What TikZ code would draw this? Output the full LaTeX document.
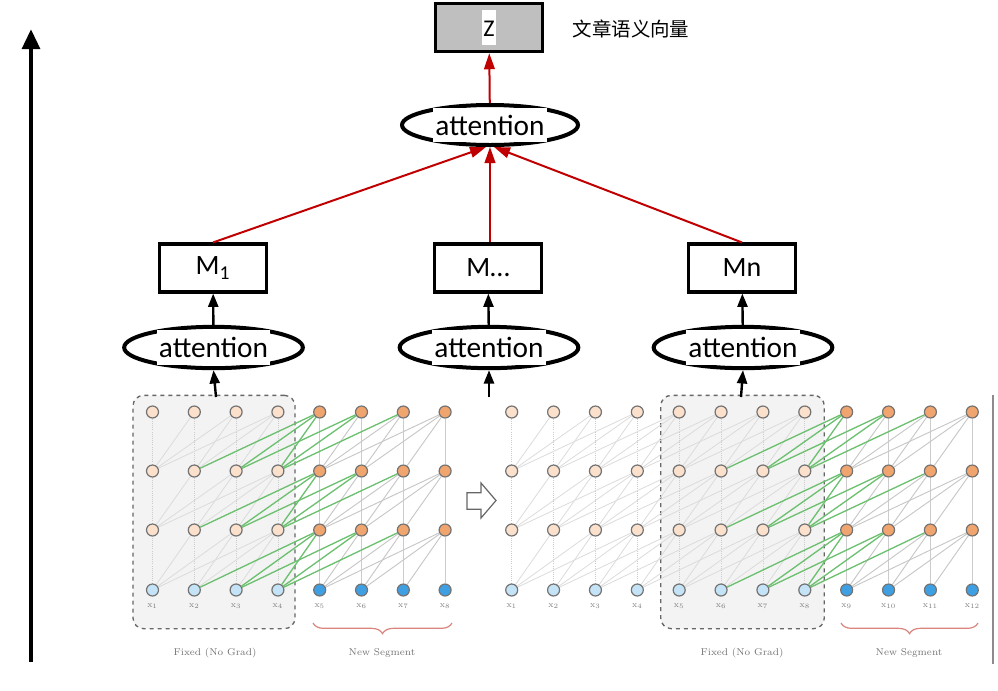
\documentclass[tikz,border=0pt]{standalone}
\usepackage{fontspec}
\newfontfamily\calibri{Carlito}
\newfontfamily\cjkfont{Noto Sans CJK SC}
\usetikzlibrary{positioning,arrows.meta,shapes.geometric,decorations.pathreplacing,backgrounds}
\definecolor{darkred}{HTML}{C00000}
\definecolor{paleorange}{HTML}{FBE0CC}
\definecolor{deeporange}{HTML}{F0A46E}
\definecolor{paleblue}{HTML}{C4E3F7}
\definecolor{deepblue}{HTML}{3F9FE3}
\definecolor{hotgreen}{HTML}{6CC070}
\definecolor{bracered}{HTML}{D9847C}
\definecolor{boxgray}{HTML}{F3F3F3}
\begin{document}
\begin{tikzpicture}[x=0.75pt,y=-0.75pt,>={Triangle[length=10pt,width=7.5pt]}]
	\useasboundingbox (0,0) rectangle (998,690);
	\def \zrow{27.5}
	\def \toprow{125}
	\def \mrow{268}
	\def \attrow{347.5}
	\def \rowzero{590}
	\def \rowone{530}
	\def \rowtwo{471}
	\def \rowthree{412}
	\tikzstyle{z-node}=[draw,fill=gray!50,line width=2.6pt,minimum width=80pt,minimum height=36pt,inner sep=0pt,font=\calibri\fontsize{18}{20}\selectfont]
	\tikzstyle{m-node}=[draw,line width=2.3pt,minimum width=80pt,minimum height=36pt,inner sep=0pt,font=\calibri\fontsize{21}{24}\selectfont]
	\tikzstyle{a-node}=[ellipse,draw,line width=3pt,minimum width=132pt,minimum height=30pt,inner sep=0pt]
	\tikzstyle{a-text}=[fill=white,inner sep=0pt,minimum width=85pt,minimum height=26pt,font=\calibri\fontsize{22}{26}\selectfont]
	\tikzstyle{n-node}=[circle,draw=black!55,line width=0.9pt,minimum size=9pt,inner sep=0pt]
	\tikzstyle{x-label}=[text=black!50,inner sep=0pt,label distance=5pt,font=\fontsize{6.5}{7}\selectfont]
	\tikzstyle{fix-box}=[draw=black!60,dashed,line width=1pt,fill=boxgray,rounded corners=8pt,minimum height=175pt]
	\tikzstyle{cap-text}=[text=black!55,font=\fontsize{7.4}{9}\selectfont]
	\tikzstyle{v-old}=[black!20,densely dotted,line width=0.6pt]
	\tikzstyle{v-new}=[black!20,line width=0.9pt]
	\tikzstyle{e-old}=[black!14,line width=0.6pt]
	\tikzstyle{e-new}=[black!22,line width=0.7pt]
	\tikzstyle{e-hot}=[hotgreen,line width=1pt]
	\tikzstyle{red-line}=[->,darkred,line width=1.5pt,>={Triangle[length=12pt,width=8pt]}]
	\tikzstyle{up-line}=[->,line width=1.8pt]

	% top of the model
	\node[z-node] (z) at (489,\zrow) {{\fboxsep=1pt\colorbox{white}{\rule[-5.5pt]{0pt}{24pt}Z}}};
	\node[font=\cjkfont\fontsize{14.6}{16}\selectfont] (zname) at (631,29) {文章语义向量};
	\node[a-node] (a0) at (490,\toprow) {};
	\node[a-text] (a0t) at (a0) {attention};

	% segment memories
	\node[m-node] (m1) at (213,\mrow) {M\textsubscript{1}};
	\node[m-node] (m2) at (488,\mrow) {M…};
	\node[m-node] (m3) at (742,\mrow) {Mn};

	% segment attention
	\node[a-node,minimum width=134pt,minimum height=31pt] (a1) at (213.5,\attrow) {};
	\node[a-text] (a1t) at (a1) {attention};
	\node[a-node,minimum width=134pt,minimum height=31pt] (a2) at (489,\attrow) {};
	\node[a-text] (a2t) at (a2) {attention};
	\node[a-node,minimum width=134pt,minimum height=31pt] (a3) at (743,\attrow) {};
	\node[a-text] (a3t) at (a3) {attention};

	\coordinate (s1) at (216,397);
	\coordinate (s2) at (489,397);
	\coordinate (s3) at (741,397);
	\coordinate (axisbot) at (31,662);
	\coordinate (axistop) at (31,29);

	% left network (x1..x8)
	\foreach \c in {1,...,8} {
		\ifnum\c<5\relax \def\hcol{paleorange}\def\icol{paleblue}\else \def\hcol{deeporange}\def\icol{deepblue}\fi
		\node[n-node,fill=\icol,label={[x-label]below:$\mathrm{x}_{\c}$}] (l-0-\c) at ({152.5+41.8*(\c-1)},\rowzero) {};
		\node[n-node,fill=\hcol] (l-1-\c) at ({152.5+41.8*(\c-1)},\rowone) {};
		\node[n-node,fill=\hcol] (l-2-\c) at ({152.5+41.8*(\c-1)},\rowtwo) {};
		\node[n-node,fill=\hcol] (l-3-\c) at ({152.5+41.8*(\c-1)},\rowthree) {};
	}
	% right network (x1..x12)
	\foreach \c in {1,...,12} {
		\ifnum\c<9\relax \def\hcol{paleorange}\def\icol{paleblue}\else \def\hcol{deeporange}\def\icol{deepblue}\fi
		\node[n-node,fill=\icol,label={[x-label]below:$\mathrm{x}_{\c}$}] (r-0-\c) at ({511.7+41.87*(\c-1)},\rowzero) {};
		\node[n-node,fill=\hcol] (r-1-\c) at ({511.7+41.87*(\c-1)},\rowone) {};
		\node[n-node,fill=\hcol] (r-2-\c) at ({511.7+41.87*(\c-1)},\rowtwo) {};
		\node[n-node,fill=\hcol] (r-3-\c) at ({511.7+41.87*(\c-1)},\rowthree) {};
	}

	\begin{pgfonlayer}{background}
		\node[fix-box,minimum width=121.5pt] (fix1) at (214,512) {};
		\node[fix-box,minimum width=122.7pt] (fix2) at (742.5,512) {};
		\foreach \r in {1,2,3} {
			\pgfmathtruncatemacro\q{\r-1}
			\foreach \c in {1,...,8} {
				\ifnum\c<5\relax \draw[v-old] (l-\q-\c) -- (l-\r-\c); \else \draw[v-new] (l-\q-\c) -- (l-\r-\c); \fi
				\foreach \d in {1,2,3} {
					\pgfmathtruncatemacro\b{\c-\d}
					\ifnum\b>0\relax
						\ifnum\c<5\relax \draw[e-old] (l-\q-\b) -- (l-\r-\c);
						\else\ifnum\b>4\relax \draw[e-new] (l-\q-\b) -- (l-\r-\c); \fi\fi
					\fi
				}
			}
			\foreach \c in {1,...,12} {
				\ifnum\c<9\relax \draw[v-old] (r-\q-\c) -- (r-\r-\c); \else \draw[v-new] (r-\q-\c) -- (r-\r-\c); \fi
				\foreach \d in {1,2,3} {
					\pgfmathtruncatemacro\b{\c-\d}
					\ifnum\b>0\relax
						\ifnum\c<9\relax \draw[e-old] (r-\q-\b) -- (r-\r-\c);
						\else\ifnum\b>8\relax \draw[e-new] (r-\q-\b) -- (r-\r-\c); \fi\fi
					\fi
				}
			}
			% memory links
			\foreach \c/\b in {5/2,5/3,5/4,6/3,6/4,7/4}
				\draw[e-hot] (l-\q-\b) -- (l-\r-\c);
			\foreach \c/\b in {9/6,9/7,9/8,10/7,10/8,11/8}
				\draw[e-hot] (r-\q-\b) -- (r-\r-\c);
		}
	\end{pgfonlayer}

	% captions
	\node[cap-text] (cap1) at (215,653) {Fixed (No Grad)};
	\node[cap-text] (cap2) at (382,653) {New Segment};
	\node[cap-text] (cap3) at (742,653) {Fixed (No Grad)};
	\node[cap-text] (cap4) at (909,653) {New Segment};
	\coordinate (br1a) at (313,623);
	\coordinate (br1b) at (452,623);
	\coordinate (br2a) at (841,623);
	\coordinate (br2b) at (978,623);
	\draw[bracered,line width=0.9pt,decorate,decoration={brace,mirror,amplitude=8pt}] (br1a) -- (br1b);
	\draw[bracered,line width=0.9pt,decorate,decoration={brace,mirror,amplitude=8pt}] (br2a) -- (br2b);
	\coordinate (bartop) at (993,395);
	\coordinate (barbot) at (993,664);
	\draw[black!45,line width=1.5pt] (bartop) -- (barbot);
	\draw[black!60,line width=0.9pt,fill=white] (467,492.7) -- (481,492.7) -- (481,483) -- (496,500.5) -- (481,518) -- (481,509.3) -- (467,509.3) -- cycle;

	\path
		(a0)	edge[red-line]	(z)
		(m1.north)	edge[red-line]	([xshift=-3pt]a0.south)
		(a0.south |- m2.north)	edge[red-line]	(a0.south)
		(m3.north)	edge[red-line]	([xshift=3pt]a0.south)
		%
		(a1)	edge[up-line]	(m1)
		(a2)	edge[up-line]	(m2)
		(a3)	edge[up-line]	(m3)
		(s1)	edge[up-line]	(a1.south)
		(s2)	edge[up-line]	(a2.south)
		(s3)	edge[up-line]	(a3.south);
	\draw[->,line width=3.5pt,>={Triangle[length=15pt,width=13pt]}] (axisbot) -- (axistop);
\end{tikzpicture}
\end{document}
